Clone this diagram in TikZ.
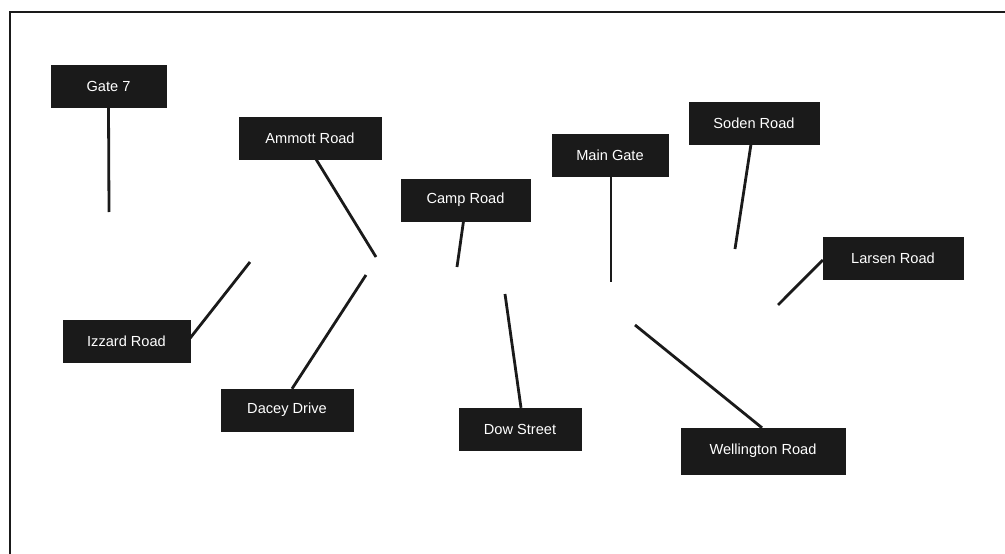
\documentclass[tikz,border=0pt]{standalone}
\usepackage{fontspec}
\setmainfont{Liberation Sans}
\usepackage{xcolor}
\usetikzlibrary{positioning,calc}
\definecolor{boxblack}{HTML}{1A1A1A}
\tikzset{
roadbox/.style = {draw=boxblack, fill=boxblack, text=white, rectangle, inner sep=0pt, minimum height=42pt, font=\fontsize{14.6}{17}\selectfont},
road/.style = {line width=2.8pt, draw=boxblack},
tip/.style = {coordinate}
}
\begin{document}
\begin{tikzpicture}[x=1pt, y=-1pt]
    \useasboundingbox (0,0) rectangle (1005,554);
    \draw [line width=1.8pt, boxblack] (1005,12) -- (10,12) -- (10,554);
    % labels
    \node [roadbox, minimum width=115pt] (gate) at (108.5,86) {Gate 7};
    \node [roadbox, minimum width=142pt] (ammott) at (310,138) {Ammott Road};
    \node [roadbox, minimum width=129pt] (camp) at (465.5,200) {Camp Road};
    \node [roadbox, minimum width=116pt] (main) at (610,155) {Main Gate};
    \node [roadbox, minimum width=130pt] (soden) at (754,123) {Soden Road};
    \node [roadbox, minimum width=140pt] (larsen) at (893,258.5) {Larsen Road};
    \node [roadbox, minimum width=127pt] (izzard) at (126.5,341) {Izzard Road};
    \node [roadbox, minimum width=132pt] (dacey) at (287,410) {Dacey Drive};
    \node [roadbox, minimum width=122pt] (dow) at (520,429) {Dow Street};
    \node [roadbox, minimum width=164pt, minimum height=46pt] (welling) at (763,451) {Wellington Road};
    % free ends
    \coordinate (gateend) at (109,212);
    \coordinate (ammottend) at (376,257);
    \coordinate (campend) at (457,267);
    \coordinate (mainend) at (611,282);
    \coordinate (sodenend) at (735,249);
    \coordinate (larsenend) at (778,305);
    \coordinate (izzardend) at (250,262);
    \coordinate (daceyend) at (366,275);
    \coordinate (dowend) at (505,294);
    \coordinate (wellingend) at (635,325);
    % roads
    \draw [road] (gate.south) -- (gateend);
    \draw [road] ($(ammott.south)+(6,0)$) -- (ammottend);
    \draw [road] ($(camp.south)+(-2,0)$) -- (campend);
    \draw [road] ($(main.south)+(1,0)$) -- (mainend);
    \draw [road] ($(soden.south)+(-3,0)$) -- (sodenend);
    \draw [road] ($(larsen.west)+(0,1.5)$) -- (larsenend);
    \draw [road] ($(izzard.east)+(0,-3)$) -- (izzardend);
    \draw [road] ($(dacey.north)+(5,0)$) -- (daceyend);
    \draw [road] ($(dow.north)+(1,0)$) -- (dowend);
    \draw [road] ($(welling.north)+(-1,0)$) -- (wellingend);
\end{tikzpicture}
\end{document}
